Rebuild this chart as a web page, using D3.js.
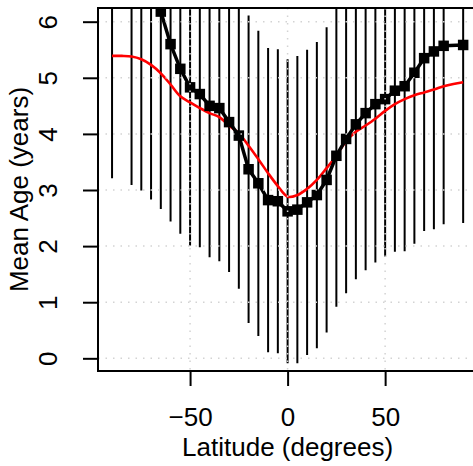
<!DOCTYPE html>
<html><head><meta charset="utf-8">
<script src="https://cdn.jsdelivr.net/npm/d3@7/dist/d3.min.js"></script>
<style>body{margin:0;background:#fff}svg{display:block}text{font-family:"Liberation Sans",Arial,sans-serif}</style>
</head><body>
<script>
// Observed latitudes (degrees)
const latitudes = [-90,-80,-75,-70,-65,-60,-55,-50,-45,-40,-35,-30,-25,-20,-15,-10,-5,0,5,10,15,20,25,30,35,40,45,50,55,60,65,70,75,80,90];
// Mean age (years) at each latitude
const meanAge = [7.0,6.9,6.8,6.6,6.18,5.60,5.16,4.83,4.71,4.50,4.46,4.21,3.97,3.37,3.12,2.82,2.80,2.62,2.65,2.78,2.91,3.18,3.61,3.91,4.17,4.37,4.53,4.62,4.77,4.85,5.09,5.35,5.47,5.57,5.585];
// Lower end of the error bars (mean - sd)
const lowerAge = [3.21,3.09,2.99,2.83,2.66,2.44,2.22,2.01,1.98,1.80,1.73,1.54,1.24,0.63,0.40,0.11,0.09,-0.09,-0.09,0.06,0.18,0.46,0.92,1.16,1.41,1.57,1.71,1.81,1.90,1.91,2.04,2.27,2.30,2.39,2.41];
// Fitted (red) curve
const fitLat = [-90,-85,-80,-75,-70,-65,-60,-55,-50,-45,-40,-35,-30,-25,-20,-15,-10,-5,0,5,10,15,20,25,30,35,40,45,50,55,60,65,70,75,80,85,90];
const fitAge = [5.39,5.39,5.38,5.33,5.23,5.08,4.88,4.67,4.56,4.46,4.37,4.30,4.15,4.01,3.79,3.55,3.30,3.07,2.88,2.91,3.02,3.18,3.39,3.61,3.87,4.04,4.15,4.27,4.41,4.53,4.62,4.69,4.74,4.79,4.85,4.89,4.92];
const xTicks = [-50,0,50];
const yTicks = [0,1,2,3,4,5,6];

const W = 473, H = 466;
const L = 98, R = 477.2, T = 8, B = 371;
const FS = 26;
const x = d3.scaleLinear().domain([-97.2, 97.2]).range([L, R]);
const y = d3.scaleLinear().domain([-0.226, 6.244]).range([B, T]);

const svg = d3.select("body").append("svg").attr("width", W).attr("height", H);
svg.append("defs").append("clipPath").attr("id","plot")
  .append("rect").attr("x",L).attr("y",T).attr("width",R-L).attr("height",B-T);
const g = svg.append("g").attr("clip-path","url(#plot)");

const data = latitudes.map((lat,i)=>({lat, m:meanAge[i], lo:lowerAge[i], hi: 2*meanAge[i]-lowerAge[i]}));

// error bars
g.selectAll("line.err").data(data).enter().append("line")
  .attr("x1",d=>x(d.lat)).attr("x2",d=>x(d.lat))
  .attr("y1",d=>y(d.lo)).attr("y2",d=>y(d.hi))
  .attr("stroke","#000").attr("stroke-width",2);

// red fitted curve
g.append("path").datum(fitLat.map((l,i)=>[l,fitAge[i]]))
  .attr("d", d3.line().x(d=>x(d[0])).y(d=>y(d[1])).curve(d3.curveCatmullRom))
  .attr("fill","none").attr("stroke","#ff0000").attr("stroke-width",2.6);

// black mean line + squares
g.append("path").datum(data)
  .attr("d", d3.line().x(d=>x(d.lat)).y(d=>y(d.m)))
  .attr("fill","none").attr("stroke","#000").attr("stroke-width",3.5);
const s = 10.5;
g.selectAll("rect.pt").data(data).enter().append("rect")
  .attr("x",d=>x(d.lat)-s/2).attr("y",d=>y(d.m)-s/2).attr("width",s).attr("height",s)
  .attr("fill","#000");

// grid (drawn on top, like R's grid())
const grid = svg.append("g").attr("clip-path","url(#plot)")
  .attr("stroke","#d3d3d3").attr("stroke-width",1.5).attr("stroke-dasharray","1.5,6");
grid.selectAll("line.gy").data(yTicks).enter().append("line")
  .attr("x1",L).attr("x2",R).attr("y1",d=>y(d)).attr("y2",d=>y(d));
grid.selectAll("line.gx").data(xTicks).enter().append("line")
  .attr("y1",T).attr("y2",B).attr("x1",d=>x(d)).attr("x2",d=>x(d));

// box
svg.append("rect").attr("x",L).attr("y",T).attr("width",R-L).attr("height",B-T)
  .attr("fill","none").attr("stroke","#000").attr("stroke-width",2);

// axes
const fmt = d => d < 0 ? "\u2212" + Math.abs(d) : String(d);
const xAxis = d3.axisBottom(x).tickValues(xTicks).tickSize(15).tickFormat(fmt);
const ax = svg.append("g").attr("transform",`translate(0,${B})`).call(xAxis);
ax.select(".domain").remove();
ax.selectAll("line").attr("stroke","#000").attr("stroke-width",2);
ax.selectAll("text").attr("font-size",FS).attr("fill","#000").attr("dy",null)
  .attr("dominant-baseline","middle").attr("y",48);

const yAxis = d3.axisLeft(y).tickValues(yTicks).tickSize(15).tickFormat(fmt);
const ay = svg.append("g").attr("transform",`translate(${L},0)`).call(yAxis);
ay.select(".domain").remove();
ay.selectAll("line").attr("stroke","#000").attr("stroke-width",2);
ay.selectAll("text").attr("font-size",FS).attr("fill","#000")
  .attr("x",null).attr("dy",null)
  .attr("text-anchor","middle").attr("dominant-baseline","middle")
  .attr("transform","translate(-48,0) rotate(-90)");

svg.append("text").attr("x",x(0)).attr("y",449).attr("text-anchor","middle")
  .attr("dominant-baseline","middle").attr("font-size",FS).text("Latitude (degrees)");
svg.append("text").attr("transform",`translate(21,${(T+B)/2}) rotate(-90)`)
  .attr("text-anchor","middle").attr("dominant-baseline","middle")
  .attr("font-size",FS).text("Mean Age (years)");
</script>
</body></html>
